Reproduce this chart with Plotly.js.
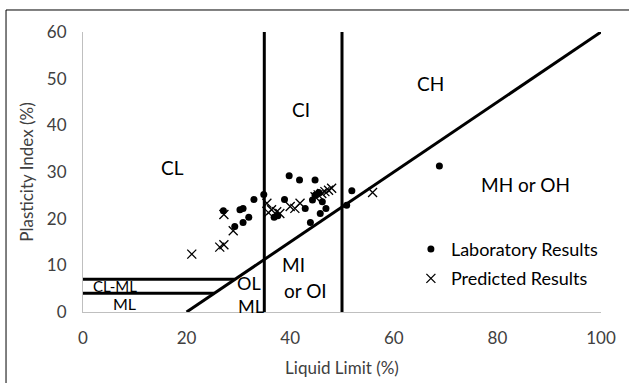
<!DOCTYPE html>
<html>
<head>
<meta charset="utf-8">
<script src="https://cdn.plot.ly/plotly-3.0.1.min.js"></script>
<style>
  html, body { margin: 0; padding: 0; background: #fff; }
  #chart { width: 629px; height: 383px; }
</style>
</head>
<body>
<div id="chart"></div>
<script>
// Plasticity chart: liquid limit vs plasticity index
const labLL = [39.8, 41.8, 44.8, 34.9, 33.0, 27.1, 30.3, 30.9, 32.0, 30.9, 29.3, 38.9, 36.9, 37.6, 42.9, 43.9, 44.3, 44.8, 45.5, 46.2, 46.9, 45.8, 51.9, 50.9, 68.8];
const labPI = [29.2, 28.3, 28.3, 25.2, 24.1, 21.7, 21.9, 22.2, 20.3, 19.2, 18.3, 24.1, 20.3, 20.6, 22.2, 19.2, 24.0, 25.0, 25.6, 23.6, 22.2, 21.1, 26.0, 22.9, 31.3];

const predLL = [21.0, 26.4, 27.2, 29.0, 27.2, 35.5, 35.8, 36.4, 37.4, 38.0, 40.0, 40.9, 41.9, 44.8, 45.4, 46.1, 46.7, 47.4, 48.0, 55.9];
const predPI = [12.4, 13.9, 14.4, 17.4, 20.9, 23.3, 21.3, 21.9, 21.5, 21.1, 22.6, 22.2, 23.3, 24.7, 25.1, 25.4, 25.8, 26.1, 26.5, 25.6];

// Classification boundaries
const aLineLL = [20, 100];
const aLinePI = [0, 60];
const lowLL = [35, 35];
const highLL = [50, 50];
const boundPI = [0, 60];
const clmlLL = [0, 29.3];
const clmlPI = [7, 7];
const mlLL = [0, 25.3];
const mlPI = [4, 4];

// Zone labels
const zoneText = ['CL', 'CI', 'CH', 'MH or OH', 'MI', 'or OI', 'OL', 'ML', 'CL-ML', 'ML'];
const zoneLL = [17.3, 42.0, 67.0, 85.4, 40.6, 42.9, 32.0, 32.4, 6.2, 8.1];
const zonePI = [31.0, 43.4, 49.0, 27.4, 10.2, 4.7, 6.3, 1.2, 5.5, 1.8];
const zoneSize = [19, 19, 19, 19, 19, 19, 18, 18, 15, 16];

const FONT = 'Lato, "Open Sans", sans-serif';
const boundaryLine = { color: '#000', width: 3 };

function boundary(x, y) {
  return { x: x, y: y, type: 'scatter', mode: 'lines', line: boundaryLine,
           showlegend: false, hoverinfo: 'skip' };
}

const traces = [
  boundary(aLineLL, aLinePI),
  boundary(lowLL, boundPI),
  boundary(highLL, boundPI),
  boundary(clmlLL, clmlPI),
  boundary(mlLL, mlPI),
  {
    x: labLL, y: labPI, type: 'scatter', mode: 'markers',
    name: 'Laboratory Results', legendgroup: 'lab',
    marker: { symbol: 'circle', size: 7, color: '#000' }
  },
  {
    x: predLL, y: predPI, type: 'scatter', mode: 'markers',
    name: 'Predicted Results', legendgroup: 'pred',
    marker: { symbol: 'x-thin', size: 9, color: '#000', line: { color: '#000', width: 1.3 } }
  }
];

const annotations = zoneText.map((t, i) => ({
  x: zoneLL[i], y: zonePI[i], xref: 'x', yref: 'y', text: t, showarrow: false,
  font: { family: FONT, size: zoneSize[i], color: '#000' }
}));

const layout = {
  width: 629, height: 383,
  margin: { l: 83, r: 28, t: 32, b: 71 },
  paper_bgcolor: '#fff', plot_bgcolor: '#fff',
  font: { family: FONT, color: '#404040' },
  showlegend: true,
  legend: {
    x: 0.633, y: 0.29, xanchor: 'left', yanchor: 'top',
    bgcolor: 'rgba(0,0,0,0)', traceorder: 'grouped', tracegroupgap: 3,
    font: { family: FONT, size: 18, color: '#000' }
  },
  xaxis: {
    range: [0, 100], dtick: 20, showgrid: false, zeroline: false,
    showline: true, linecolor: '#bfbfbf', linewidth: 1, ticks: '',
    ticklabelstandoff: 11,
    tickfont: { family: FONT, size: 17, color: '#404040' },
    title: { text: 'Liquid Limit (%)', font: { family: FONT, size: 17, color: '#404040' }, standoff: 14 }
  },
  yaxis: {
    range: [0, 60], dtick: 10, showgrid: false, zeroline: false,
    showline: true, linecolor: '#bfbfbf', linewidth: 1, ticks: '',
    ticklabelstandoff: 12,
    tickfont: { family: FONT, size: 17, color: '#404040' },
    title: { text: 'Plasticity Index (%)', font: { family: FONT, size: 17, color: '#404040' }, standoff: 8 }
  },
  annotations: annotations,
  shapes: [
    { type: 'line', xref: 'paper', yref: 'paper', x0: -0.1486, x1: -0.1486, y0: -0.27, y1: 1.0786,
      line: { color: '#000', width: 1 } },
    { type: 'line', xref: 'paper', yref: 'paper', x0: -0.1486, x1: 1.07, y0: 1.0786, y1: 1.0786,
      line: { color: '#000', width: 1 } }
  ]
};

Plotly.newPlot('chart', traces, layout, { displayModeBar: false, staticPlot: true });
</script>
</body>
</html>
